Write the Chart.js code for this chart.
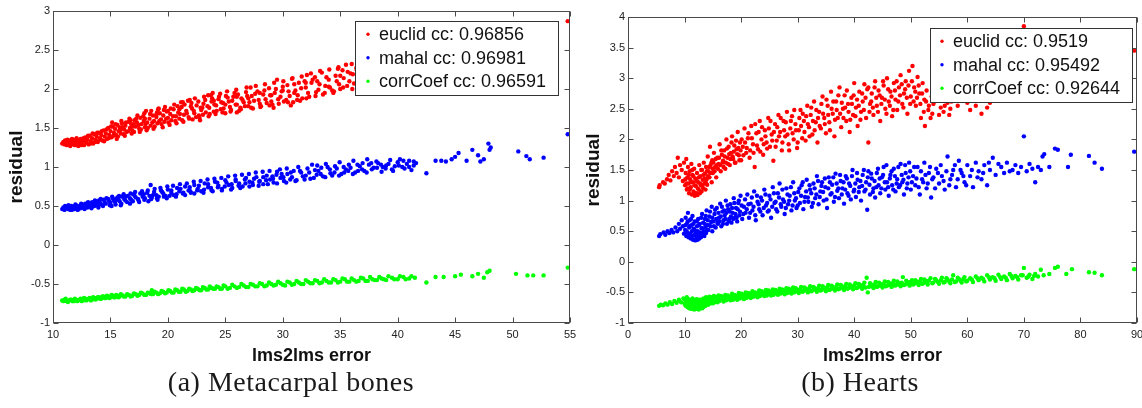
<!DOCTYPE html>
<html>
<head>
<meta charset="utf-8">
<script src="https://cdn.jsdelivr.net/npm/chart.js@4.4.0/dist/chart.umd.min.js"></script>
<style>
  html, body { margin: 0; padding: 0; background: #fff; width: 1142px; height: 408px; overflow: hidden; }
  .panel { position: absolute; top: 0; height: 372px; overflow: hidden; }
  #panelA { left: 0; width: 577px; }
  #panelB { left: 577px; width: 565px; }
  .panel canvas { position: absolute; top: 0; left: 0; }
  .caption { position: absolute; top: 366px; width: 400px; text-align: center; letter-spacing: 0.5px;
             font-family: "Liberation Serif", "DejaVu Serif", serif; font-size: 28px; color: #1a1a1a; }
</style>
</head>
<body>
<div class="panel" id="panelA"><canvas id="chartA" width="610" height="372"></canvas></div>
<div class="panel" id="panelB"><canvas id="chartB" width="600" height="372"></canvas></div>
<div class="caption" style="left:91px">(a) Metacarpal bones</div>
<div class="caption" style="left:660px">(b) Hearts</div>

<script>
/* ── data: flat [x, y, x, y, ...] lists ── */

// (a) metacarpal bones
const metaEuclid = [
  10.8,1.30, 10.9,1.32, 11.0,1.29, 11.1,1.31, 11.2,1.28, 11.3,1.33, 11.4,1.30, 11.5,1.27, 11.6,1.32, 11.7,1.29,
  11.8,1.35, 11.9,1.28, 12.0,1.31, 12.1,1.34, 12.2,1.27, 12.3,1.30, 12.4,1.36, 12.5,1.29, 12.6,1.33, 12.7,1.28,
  12.8,1.38, 12.9,1.31, 13.0,1.35, 13.1,1.29, 13.2,1.40, 13.3,1.33, 13.4,1.37, 13.5,1.30, 13.6,1.42, 13.7,1.35,
  13.8,1.39, 13.9,1.32, 14.0,1.44, 14.1,1.37, 14.2,1.41, 14.3,1.34, 14.4,1.47, 14.5,1.39, 14.6,1.43, 14.7,1.36,
  14.8,1.50, 14.9,1.41, 15.0,1.46, 15.1,1.38, 15.2,1.52, 15.3,1.44, 15.4,1.49, 15.5,1.41, 15.6,1.54, 15.7,1.46,
  15.8,1.51, 15.9,1.43, 16.0,1.56, 16.2,1.48, 16.3,1.53, 16.4,1.45, 16.6,1.58, 16.7,1.50, 16.8,1.55, 16.9,1.47,
  17.1,1.60, 17.2,1.52, 17.3,1.57, 17.5,1.49, 17.6,1.63, 17.7,1.55, 17.9,1.59, 18.0,1.51, 18.1,1.72, 18.2,1.57,
  18.4,1.62, 18.5,1.53, 18.7,1.66, 18.8,1.59, 19.0,1.64, 19.1,1.56, 19.3,1.69, 19.4,1.61, 19.6,1.66, 19.7,1.58,
  19.9,1.71, 20.0,1.63, 20.2,1.68, 20.3,1.60, 20.5,1.74, 20.7,1.65, 20.9,1.70, 21.0,1.62, 21.2,1.77, 21.4,1.67,
  21.6,1.72, 21.8,1.64, 21.9,1.86, 22.1,1.75, 22.3,1.69, 22.5,1.79, 22.7,1.66, 22.9,1.73, 23.1,1.81, 23.3,1.70,
  23.5,1.92, 23.6,1.76, 23.8,1.84, 24.0,1.71, 24.2,1.79, 24.4,1.87, 24.6,1.74, 24.8,1.82, 25.0,1.69, 25.2,1.89,
  25.4,1.77, 25.6,1.85, 25.8,1.95, 26.0,1.80, 26.2,1.72, 26.4,1.88, 26.6,1.83, 26.8,1.96, 27.0,1.78, 27.3,1.91,
  27.5,1.85, 27.8,1.97, 28.0,1.81, 28.3,1.93, 28.5,1.87, 28.8,2.01, 29.0,1.84, 29.3,1.95, 29.5,2.12, 29.8,1.90,
  30.0,2.03, 30.3,1.86, 30.5,1.97, 30.7,1.79, 31.0,2.06, 31.3,1.92, 31.6,2.01, 31.9,2.10, 32.2,1.95, 32.5,2.08,
  32.8,2.15, 33.1,1.99, 33.4,2.21, 33.7,2.04, 34.0,2.12, 34.3,1.98, 34.6,2.17, 34.9,2.06, 35.2,2.24, 35.5,2.31,
  35.8,2.10, 36.1,2.19, 36.4,2.27, 36.7,2.02, 37.0,2.14, 37.4,2.22, 37.8,2.05, 38.2,2.18, 38.7,2.26, 39.2,2.11,
  39.8,2.23, 40.5,2.16, 41.2,2.29, 42.0,2.21, 54.8,2.87,
  11.05,1.34, 11.25,1.35, 11.45,1.34, 11.65,1.36, 11.85,1.31, 12.05,1.37, 12.25,1.33, 12.45,1.28, 12.65,1.37, 12.85,1.34,
  13.05,1.40, 13.25,1.30, 13.45,1.43, 13.65,1.32, 13.85,1.44, 14.05,1.35, 14.25,1.46, 14.45,1.33, 14.65,1.48, 14.85,1.37,
  15.05,1.52, 15.25,1.40, 15.45,1.55, 15.65,1.39, 15.85,1.47, 16.05,1.51, 16.15,1.42, 16.35,1.57, 16.55,1.46, 16.75,1.60,
  16.95,1.52, 17.05,1.45, 17.25,1.62, 17.45,1.54, 17.65,1.48, 17.85,1.65, 18.05,1.55, 18.25,1.50, 18.45,1.68, 18.65,1.57,
  18.85,1.52, 19.05,1.70, 19.25,1.59, 19.45,1.55, 19.65,1.73, 19.85,1.62, 20.05,1.57, 20.25,1.75, 20.45,1.65, 20.65,1.59,
  20.85,1.78, 21.05,1.68, 21.25,1.60, 21.45,1.80, 21.65,1.69, 21.85,1.62, 22.05,1.82, 22.25,1.72, 22.45,1.64, 22.65,1.84,
  22.85,1.76, 23.05,1.67, 23.25,1.86, 23.45,1.78, 23.65,1.68, 23.85,1.88, 24.05,1.80, 24.25,1.72, 24.45,1.90, 24.65,1.83,
  24.85,1.75, 25.05,1.91, 25.3,1.84, 25.5,1.73, 25.7,1.90, 25.9,1.80, 26.1,1.93, 26.3,1.76, 26.5,1.86, 26.7,1.78,
  26.9,1.91, 27.1,1.83, 27.4,1.75, 27.6,1.94, 27.9,1.86, 28.1,1.78, 28.4,1.98, 28.6,1.82, 28.9,1.92, 29.1,1.80,
  29.4,2.00, 29.6,1.87, 29.9,1.97, 30.1,1.84, 30.4,2.05, 30.6,1.91, 30.9,1.83, 31.1,1.98, 31.4,2.08, 31.7,1.88,
  32.0,2.02, 32.3,1.90, 32.6,2.12, 32.9,1.96, 33.2,2.06, 33.5,1.93, 33.8,2.15, 34.1,2.02, 34.4,1.95, 34.7,2.10,
  35.0,2.00, 35.3,2.14, 35.6,2.04, 35.9,2.20, 36.2,2.07, 36.5,2.15, 36.8,1.99, 37.1,2.25, 37.5,2.09, 37.9,2.28,
  38.4,2.12, 38.9,2.20, 39.4,2.30, 40.0,2.12, 40.8,2.24, 41.6,2.18, 21.3,1.83, 19.2,1.75, 23.9,1.95, 27.2,2.02,
  30.8,2.13, 32.1,2.18, 34.8,2.26, 36.0,2.32, 22.8,1.60, 26.0,1.70, 29.2,1.76, 31.5,1.85,
  15.15,1.57, 15.55,1.36, 15.95,1.59, 16.25,1.40, 16.65,1.62, 16.85,1.43, 17.35,1.66, 17.55,1.45, 17.95,1.69, 18.15,1.47,
  18.55,1.72, 18.75,1.49, 19.15,1.74, 19.55,1.51, 19.75,1.77, 20.15,1.54, 20.55,1.80, 20.75,1.56, 21.15,1.83, 21.35,1.58,
  21.75,1.85, 22.15,1.61, 22.35,1.88, 22.75,1.63, 23.15,1.90, 23.55,1.65, 23.75,1.92, 24.15,1.68, 24.55,1.94, 24.75,1.70,
  25.15,1.97, 25.45,1.71, 25.95,1.99, 26.35,1.74, 26.85,2.02, 27.25,1.76, 27.65,2.04, 28.05,1.77, 28.45,2.06, 28.85,1.79,
  29.25,2.08, 29.65,1.81, 30.05,2.10, 30.45,1.83, 30.85,2.14, 31.25,1.86, 31.65,2.16, 32.05,1.88, 32.45,2.20, 32.85,1.91,
  33.25,2.23, 33.65,1.95, 34.05,2.25, 34.45,1.97, 34.85,2.28, 35.25,2.02, 35.65,2.22, 36.05,2.00, 36.45,2.24, 36.85,2.30,
  16.0,1.50, 17.0,1.55, 18.0,1.62, 19.0,1.67, 20.0,1.72, 21.0,1.74, 22.0,1.78, 23.0,1.76, 24.0,1.85, 25.0,1.80,
  26.0,1.90, 27.0,1.88, 28.0,1.95, 29.0,1.92, 30.0,1.98, 31.0,1.95, 32.0,2.08, 33.0,2.10, 34.0,2.03, 35.0,2.17
];
const metaMahal = [
  10.8,0.46, 10.9,0.48, 11.0,0.45, 11.1,0.47, 11.2,0.49, 11.3,0.46, 11.4,0.48, 11.5,0.45, 11.6,0.50, 11.7,0.47,
  11.8,0.49, 11.9,0.46, 12.0,0.51, 12.1,0.48, 12.2,0.46, 12.3,0.50, 12.4,0.47, 12.5,0.52, 12.6,0.49, 12.7,0.47,
  12.8,0.53, 12.9,0.50, 13.0,0.48, 13.1,0.54, 13.2,0.51, 13.3,0.49, 13.4,0.55, 13.5,0.52, 13.6,0.50, 13.7,0.56,
  13.8,0.53, 13.9,0.51, 14.0,0.57, 14.1,0.54, 14.2,0.52, 14.4,0.58, 14.5,0.55, 14.6,0.53, 14.8,0.59, 14.9,0.56,
  15.0,0.54, 15.2,0.60, 15.3,0.57, 15.4,0.55, 15.6,0.61, 15.7,0.58, 15.8,0.56, 16.0,0.62, 16.2,0.59, 16.3,0.57,
  16.5,0.63, 16.7,0.60, 16.8,0.58, 17.0,0.65, 17.2,0.61, 17.4,0.59, 17.6,0.66, 17.8,0.62, 18.0,0.60, 18.2,0.67,
  18.4,0.63, 18.5,0.77, 18.6,0.61, 18.8,0.68, 19.0,0.64, 19.2,0.62, 19.4,0.70, 19.6,0.66, 19.8,0.63, 20.0,0.71,
  20.3,0.67, 20.5,0.64, 20.8,0.73, 21.0,0.69, 21.3,0.66, 21.5,0.75, 21.8,0.70, 22.0,0.67, 22.3,0.77, 22.6,0.72,
  22.9,0.69, 23.2,0.79, 23.5,0.74, 23.8,0.70, 24.1,0.81, 24.4,0.76, 24.7,0.72, 25.0,0.83, 25.3,0.77, 25.6,0.73,
  25.9,0.84, 26.2,0.79, 26.5,0.75, 26.8,0.86, 27.1,0.81, 27.4,0.77, 27.7,0.87, 28.0,0.82, 28.3,0.78, 28.6,0.89,
  28.9,0.84, 29.2,0.80, 29.5,0.94, 29.8,0.86, 30.1,0.82, 30.4,0.91, 30.8,0.87, 31.2,0.83, 31.6,0.93, 32.0,0.89,
  32.4,0.85, 32.8,0.96, 33.0,1.02, 33.3,0.91, 33.7,0.87, 34.1,0.97, 34.5,0.93, 34.9,0.89, 35.3,1.00, 35.7,0.95,
  36.1,0.91, 36.5,1.03, 36.9,0.97, 37.3,0.93, 37.7,1.05, 38.2,0.99, 38.6,0.94, 39.0,1.02, 39.5,0.97, 40.0,1.06,
  40.4,1.00, 40.8,1.04, 41.2,0.96, 41.6,1.05, 42.5,0.92, 43.3,1.08, 43.8,1.08, 44.2,1.07, 44.7,1.10, 45.0,1.13,
  45.3,1.18, 46.0,1.08, 46.5,1.22, 47.0,1.15, 47.2,1.07, 47.5,1.10, 47.9,1.30, 48.0,1.22, 48.1,1.25, 50.5,1.20,
  51.2,1.14, 51.5,1.10, 52.7,1.12, 54.8,1.42,
  11.05,0.50, 11.35,0.51, 11.65,0.45, 11.95,0.52, 12.15,0.45, 12.45,0.53, 12.75,0.46, 13.05,0.55, 13.35,0.47, 13.65,0.57,
  13.95,0.48, 14.15,0.59, 14.35,0.50, 14.65,0.60, 14.95,0.51, 15.15,0.62, 15.45,0.52, 15.75,0.63, 15.95,0.53, 16.15,0.65,
  16.45,0.55, 16.75,0.66, 16.95,0.56, 17.15,0.68, 17.45,0.57, 17.75,0.69, 17.95,0.58, 18.25,0.70, 18.55,0.59, 18.85,0.72,
  19.05,0.60, 19.35,0.73, 19.65,0.62, 19.95,0.75, 20.15,0.63, 20.45,0.76, 20.75,0.65, 21.05,0.78, 21.35,0.67, 21.65,0.79,
  21.95,0.69, 22.25,0.81, 22.55,0.70, 22.85,0.82, 23.15,0.71, 23.45,0.84, 23.75,0.73, 24.05,0.85, 24.35,0.74, 24.65,0.86,
  24.95,0.75, 25.25,0.88, 25.55,0.78, 25.85,0.89, 26.15,0.76, 26.45,0.90, 26.75,0.79, 27.05,0.91, 27.35,0.80, 27.65,0.93,
  27.95,0.81, 28.25,0.94, 28.55,0.83, 28.85,0.95, 29.15,0.85, 29.45,0.90, 29.75,0.97, 30.05,0.87, 30.35,0.98, 30.65,0.84,
  30.95,0.95, 31.35,1.00, 31.75,0.88, 32.15,0.98, 32.55,1.03, 32.95,0.90, 33.35,0.99, 33.75,1.04, 34.15,0.92, 34.55,1.01,
  34.95,1.06, 35.35,0.93, 35.75,1.03, 36.15,1.08, 36.55,0.95, 36.95,1.05, 37.35,1.10, 37.75,0.97, 38.15,1.07, 38.55,1.03,
  38.95,0.98, 39.35,1.09, 39.75,1.01, 40.2,1.10, 40.6,0.98, 41.0,1.08, 41.4,1.02,
  15.1,0.50, 15.5,0.59, 15.9,0.51, 16.3,0.62, 16.7,0.53, 17.1,0.63, 17.5,0.55, 17.9,0.65, 18.3,0.56, 18.7,0.64,
  19.1,0.58, 19.5,0.68, 19.9,0.60, 20.3,0.70, 20.7,0.62, 21.1,0.72, 21.5,0.64, 21.9,0.74, 22.3,0.66, 22.7,0.76,
  23.1,0.67, 23.5,0.78, 23.9,0.69, 24.3,0.80, 24.7,0.70, 25.1,0.80, 25.5,0.71, 25.9,0.82, 26.3,0.73, 26.7,0.84,
  27.1,0.75, 27.5,0.85, 27.9,0.76, 28.3,0.87, 28.7,0.78, 29.1,0.88, 29.5,0.79, 29.9,0.91, 30.3,0.80, 30.7,0.93,
  31.1,0.82, 31.5,0.95, 31.9,0.84, 32.3,0.93, 32.7,0.86, 33.1,0.95, 33.5,0.88, 33.9,1.00, 34.3,0.89, 34.7,0.98,
  35.1,0.91, 35.5,0.97, 35.9,0.99, 36.3,0.93, 36.7,1.01, 37.1,0.95, 37.5,1.03, 37.9,0.99, 38.3,1.05, 38.7,1.00,
  39.2,1.04, 39.6,0.95, 40.1,1.02, 40.5,1.08, 41.0,1.00, 41.4,1.07
];
const metaCorr = [
  10.8,-0.71, 11.0,-0.70, 11.2,-0.72, 11.4,-0.71, 11.6,-0.70, 11.8,-0.72, 12.0,-0.70, 12.2,-0.71, 12.4,-0.69, 12.6,-0.71,
  12.8,-0.69, 13.0,-0.70, 13.2,-0.68, 13.4,-0.70, 13.6,-0.68, 13.8,-0.69, 14.0,-0.67, 14.2,-0.69, 14.4,-0.66, 14.6,-0.68,
  14.8,-0.66, 15.0,-0.67, 15.2,-0.65, 15.4,-0.67, 15.6,-0.65, 15.8,-0.66, 16.0,-0.64, 16.3,-0.66, 16.6,-0.64, 16.9,-0.65,
  17.2,-0.63, 17.5,-0.64, 17.8,-0.62, 18.1,-0.64, 18.4,-0.62, 18.6,-0.58, 18.7,-0.63, 19.0,-0.61, 19.3,-0.62, 19.6,-0.60,
  19.9,-0.61, 20.2,-0.59, 20.5,-0.61, 20.8,-0.58, 21.1,-0.60, 21.4,-0.57, 21.7,-0.59, 22.0,-0.57, 22.3,-0.58, 22.6,-0.56,
  22.9,-0.58, 23.2,-0.55, 23.5,-0.57, 23.8,-0.55, 24.1,-0.56, 24.4,-0.54, 24.7,-0.56, 25.0,-0.53, 25.4,-0.55, 25.8,-0.53,
  26.2,-0.54, 26.6,-0.52, 27.0,-0.54, 27.4,-0.51, 27.8,-0.53, 28.2,-0.50, 28.6,-0.52, 29.0,-0.50, 29.4,-0.51, 29.8,-0.49,
  30.2,-0.52, 30.6,-0.48, 31.0,-0.50, 31.4,-0.48, 31.8,-0.50, 32.2,-0.47, 32.6,-0.49, 33.0,-0.46, 33.4,-0.48, 33.8,-0.46,
  34.2,-0.48, 34.6,-0.45, 35.0,-0.47, 35.4,-0.44, 35.8,-0.47, 36.2,-0.45, 36.6,-0.46, 37.0,-0.43, 37.4,-0.46, 37.8,-0.44,
  38.2,-0.45, 38.6,-0.43, 39.0,-0.45, 39.5,-0.42, 40.0,-0.44, 40.5,-0.41, 41.0,-0.43, 41.5,-0.42, 42.5,-0.48, 43.3,-0.41,
  44.0,-0.41, 45.0,-0.40, 45.5,-0.38, 46.5,-0.40, 47.0,-0.37, 47.5,-0.42, 47.8,-0.35, 48.0,-0.33, 50.3,-0.37, 51.3,-0.39,
  51.8,-0.39, 52.7,-0.39, 54.8,-0.29,
  10.9,-0.72, 11.1,-0.69, 11.3,-0.73, 11.5,-0.70, 11.7,-0.72, 11.9,-0.69, 12.1,-0.72, 12.3,-0.70, 12.5,-0.72, 12.7,-0.68,
  12.9,-0.71, 13.1,-0.69, 13.3,-0.71, 13.5,-0.67, 13.7,-0.70, 13.9,-0.67, 14.1,-0.69, 14.3,-0.66, 14.5,-0.68, 14.7,-0.65,
  14.9,-0.68, 15.1,-0.64, 15.3,-0.67, 15.5,-0.64, 15.7,-0.67, 15.9,-0.63, 16.15,-0.66, 16.45,-0.63, 16.75,-0.66, 17.05,-0.62,
  17.35,-0.65, 17.65,-0.61, 17.95,-0.64, 18.25,-0.61, 18.55,-0.63, 18.85,-0.60, 19.15,-0.63, 19.45,-0.59, 19.75,-0.62, 20.05,-0.58,
  20.35,-0.61, 20.65,-0.57, 20.95,-0.60, 21.25,-0.56, 21.55,-0.60, 21.85,-0.56, 22.15,-0.59, 22.45,-0.55, 22.75,-0.58, 23.05,-0.54,
  23.35,-0.57, 23.65,-0.53, 23.95,-0.56, 24.25,-0.53, 24.55,-0.56, 24.85,-0.52, 25.2,-0.56, 25.6,-0.51, 26.0,-0.55, 26.4,-0.50,
  26.8,-0.54, 27.2,-0.50, 27.6,-0.53, 28.0,-0.49, 28.4,-0.53, 28.8,-0.48, 29.2,-0.52, 29.6,-0.47, 30.0,-0.51, 30.4,-0.47,
  30.8,-0.51, 31.2,-0.46, 31.6,-0.50, 32.0,-0.45, 32.4,-0.49, 32.8,-0.45, 33.2,-0.49, 33.6,-0.44, 34.0,-0.48, 34.4,-0.44,
  34.8,-0.48, 35.2,-0.43, 35.6,-0.47, 36.0,-0.43, 36.4,-0.47, 36.8,-0.42, 37.2,-0.46, 37.6,-0.41, 38.0,-0.45, 38.4,-0.41,
  38.8,-0.44, 39.2,-0.40, 39.7,-0.44, 40.2,-0.40, 40.7,-0.44, 41.2,-0.40
];

// (b) hearts
const heartEuclid = [
  5.5,1.22, 5.6,1.25, 6.2,1.30, 6.5,1.28, 6.9,1.35, 7.2,1.42, 7.5,1.33, 7.8,1.48, 8.1,1.40, 8.3,1.55,
  8.6,1.45, 8.8,1.70, 9.0,1.38, 9.2,1.58, 9.5,1.50, 9.7,1.32, 9.9,1.62,
  10.1,1.25, 10.2,1.45, 10.3,1.68, 10.4,1.18, 10.5,1.38, 10.6,1.55, 10.7,1.28, 10.8,1.12, 10.9,1.48, 11.0,1.35,
  11.1,1.22, 11.2,1.60, 11.3,1.10, 11.4,1.42, 11.5,1.30, 11.6,1.15, 11.7,1.52, 11.8,1.08, 11.9,1.36, 12.0,1.24,
  12.1,1.12, 12.2,1.45, 12.3,1.09, 12.4,1.30, 12.5,1.18, 12.6,1.58, 12.7,1.12, 12.8,1.40, 12.9,1.25, 13.0,1.15,
  13.1,1.50, 13.2,1.34, 13.3,1.20, 13.4,1.62, 13.5,1.28, 13.6,1.44, 13.7,1.18, 13.8,1.55, 13.9,1.35, 14.0,1.26,
  14.1,1.72, 14.2,1.48, 14.4,1.38, 14.5,1.88, 14.6,1.58, 14.8,1.30, 14.9,1.66,
  15.0,1.45, 15.2,1.78, 15.4,1.55, 15.6,1.38, 15.8,1.70, 16.0,1.60, 16.2,1.92, 16.4,1.48, 16.6,1.75, 16.8,1.65,
  17.0,1.82, 17.2,1.52, 17.4,2.00, 17.6,1.70, 17.8,1.88, 18.0,1.58, 18.2,1.78, 18.4,2.05, 18.6,1.68, 18.8,1.90,
  19.0,1.62, 19.2,1.84, 19.4,2.12, 19.6,1.74, 19.8,1.95, 20.0,1.66,
  20.3,1.88, 20.6,2.18, 20.9,1.78, 21.2,2.02, 21.5,1.70, 21.8,2.22, 22.1,1.92, 22.4,1.55, 22.7,2.10, 23.0,1.84,
  23.3,2.30, 23.6,2.00, 23.9,1.75, 24.2,2.15, 24.5,1.95, 24.8,2.35, 25.1,1.88, 25.4,2.08, 25.7,1.65, 26.0,2.25,
  26.3,1.98, 26.6,2.40, 26.9,2.12, 27.2,1.82, 27.5,2.30, 27.8,2.05, 28.1,2.45, 28.4,1.92, 28.7,2.18, 29.0,2.38,
  29.3,2.00, 29.6,2.25, 29.9,1.86,
  30.2,2.15, 30.5,2.48, 30.8,2.02, 31.1,2.30, 31.4,1.98, 31.7,2.55, 32.0,2.20, 32.3,2.40, 32.6,2.08, 32.9,2.62,
  33.2,2.28, 33.5,1.95, 33.8,2.45, 34.1,2.18, 34.4,2.70, 34.7,2.35, 35.0,2.10, 35.3,2.55, 35.6,2.28, 35.9,2.78,
  36.2,2.42, 36.5,2.05, 36.8,2.62, 37.1,2.35, 37.4,2.85, 37.7,2.20, 38.0,2.50, 38.3,2.72, 38.6,2.30, 38.9,2.58,
  39.2,2.12, 39.5,2.68, 39.8,2.40, 40.0,2.92,
  40.3,2.52, 40.6,2.22, 40.9,2.78, 41.2,2.45, 41.5,2.62, 41.8,2.90, 42.1,2.35, 42.5,1.95, 42.5,2.85, 42.8,2.58,
  43.1,2.75, 43.4,2.40, 43.7,2.95, 44.0,2.55, 44.3,2.80, 44.6,2.30, 44.9,2.68, 45.2,2.88, 45.5,2.50, 45.8,3.00,
  46.1,2.62, 46.4,2.78, 46.7,2.38, 47.0,2.92, 47.3,2.65, 47.6,2.48, 47.9,2.85, 48.2,3.05, 48.5,2.58, 48.8,2.75,
  49.1,2.95, 49.4,2.42, 49.7,3.12, 50.0,2.70, 50.3,3.20, 50.6,2.85,
  50.9,2.55, 51.2,3.02, 51.5,2.75, 51.8,2.35, 52.1,2.92, 52.4,2.65, 52.5,2.22, 52.8,2.80, 53.1,2.48, 53.5,2.35,
  53.7,2.70, 54.0,2.58, 54.5,2.85, 55.0,2.40, 55.5,2.75, 56.0,2.55, 56.5,2.60, 57.0,2.50, 57.5,2.80, 58.0,2.65,
  59.0,3.00, 60.0,2.60, 61.5,2.55, 62.0,2.90, 63.5,2.52, 64.0,2.60, 65.0,2.95, 65.5,2.68, 67.0,3.10, 70.0,3.85,
  89.5,3.45,
  10.15,1.35, 10.35,1.28, 10.55,1.20, 10.75,1.42, 10.95,1.18, 11.15,1.30, 11.35,1.50, 11.55,1.40, 11.75,1.25, 11.95,1.12,
  12.15,1.32, 12.35,1.20, 12.55,1.38, 12.75,1.28, 12.95,1.50, 13.15,1.24, 13.35,1.42, 13.55,1.36, 13.75,1.30, 13.95,1.48,
  14.15,1.40, 14.35,1.55, 14.55,1.45, 14.75,1.62, 14.95,1.52, 15.1,1.62, 15.3,1.48, 15.5,1.68, 15.7,1.58, 15.9,1.52,
  16.1,1.70, 16.3,1.58, 16.5,1.82, 16.7,1.62, 16.9,1.55, 17.1,1.72, 17.3,1.62, 17.5,1.85, 17.7,1.60, 17.9,1.76,
  18.1,1.68, 18.3,1.95, 18.5,1.72, 18.7,1.80, 18.9,1.62, 19.1,1.98, 19.3,1.76, 19.5,1.86, 19.7,1.66, 19.9,1.82,
  20.1,2.00, 20.4,1.74, 20.7,1.95, 21.0,1.86, 21.3,2.10, 21.6,1.82, 21.9,2.02, 22.2,1.78, 22.5,2.25, 22.8,1.90,
  23.1,2.12, 23.4,1.80, 23.7,2.20, 24.0,1.92, 24.3,2.05, 24.6,1.85, 24.9,2.18, 25.2,2.30, 25.5,1.98, 25.8,2.12,
  26.1,1.88, 26.4,2.20, 26.7,2.05, 27.0,2.35, 27.3,1.95, 27.6,2.15, 27.9,2.28, 28.2,2.08, 28.5,1.82, 28.8,2.30,
  29.1,2.10, 29.4,2.48, 29.7,2.15, 30.0,1.95, 30.3,2.35, 30.6,2.22, 30.9,2.42, 31.2,2.12, 31.5,2.38, 31.8,2.25,
  32.1,2.05, 32.4,2.52, 32.7,2.30, 33.0,2.15, 33.3,2.48, 33.6,2.35, 33.9,2.22, 34.2,2.58, 34.5,2.42, 34.8,2.25,
  35.1,2.65, 35.4,2.40, 35.7,2.15, 36.0,2.50, 36.3,2.62, 36.6,2.32, 36.9,2.48, 37.2,2.72, 37.5,2.42, 37.8,2.60,
  38.1,2.35, 38.4,2.52, 38.7,2.80, 39.0,2.45, 39.3,2.32, 39.6,2.58, 39.9,2.72, 40.2,2.38, 40.5,2.65, 40.8,2.55,
  41.1,2.32, 41.4,2.75, 41.7,2.48, 42.0,2.68, 42.3,2.82, 42.7,2.45, 43.0,2.62, 43.3,2.52, 43.6,2.85, 43.9,2.68,
  44.2,2.45, 44.5,2.72, 44.8,2.58, 45.1,2.95, 45.4,2.65, 45.7,2.42, 46.0,2.82, 46.3,2.55, 46.6,2.70, 46.9,2.48,
  47.2,2.80, 47.5,2.95, 47.8,2.62, 48.1,2.72, 48.4,2.90, 48.7,2.52, 49.0,2.82, 49.3,2.68, 49.6,2.88, 49.9,2.58,
  50.2,2.95, 50.5,2.62, 50.8,2.78, 51.1,2.68, 51.4,2.88, 51.7,2.58, 52.0,2.75, 52.3,2.45, 52.7,2.62, 53.2,2.55,
  53.8,2.42, 54.2,2.62, 55.3,2.52, 55.8,2.45, 56.8,2.40, 57.2,2.62, 58.3,2.55, 60.5,2.48, 62.5,2.42
];
const heartMahal = [
  5.5,0.42, 5.7,0.45, 6.3,0.48, 6.6,0.44, 7.0,0.50, 7.3,0.47, 7.7,0.52, 8.0,0.48, 8.4,0.56, 8.7,0.50,
  9.0,0.62, 9.2,0.54, 9.5,0.68, 9.7,0.58, 9.9,0.46,
  10.1,0.52, 10.2,0.72, 10.3,0.42, 10.4,0.62, 10.5,0.48, 10.6,0.80, 10.7,0.40, 10.8,0.56, 10.9,0.68, 11.0,0.45,
  11.1,0.38, 11.2,0.60, 11.3,0.50, 11.4,0.75, 11.5,0.36, 11.6,0.54, 11.7,0.44, 11.8,0.66, 11.9,0.35, 12.0,0.50,
  12.1,0.40, 12.2,0.58, 12.3,0.36, 12.4,0.70, 12.5,0.45, 12.6,0.38, 12.7,0.62, 12.8,0.48, 12.9,0.40, 13.0,0.55,
  13.1,0.78, 13.2,0.44, 13.3,0.64, 13.4,0.50, 13.5,0.42, 13.6,0.70, 13.7,0.56, 13.8,0.47, 13.9,0.84, 14.0,0.60,
  14.2,0.52, 14.4,0.74, 14.6,0.58, 14.8,0.90, 14.9,0.50,
  15.1,0.66, 15.3,0.78, 15.5,0.56, 15.7,0.88, 15.9,0.62, 16.1,0.72, 16.3,0.95, 16.5,0.58, 16.7,0.82, 16.9,0.68,
  17.1,0.76, 17.3,1.00, 17.5,0.62, 17.7,0.86, 17.9,0.70, 18.1,0.94, 18.3,0.64, 18.5,0.80, 18.7,1.04, 18.9,0.72,
  19.1,0.88, 19.3,0.66, 19.5,0.96, 19.7,0.76, 19.9,1.08,
  20.2,0.70, 20.5,0.90, 20.8,0.80, 21.1,1.10, 21.4,0.72, 21.7,0.95, 22.0,0.84, 22.3,1.15, 22.6,0.68, 22.9,0.98,
  23.2,0.86, 23.5,1.05, 23.8,0.76, 24.1,1.18, 24.4,0.92, 24.7,0.82, 25.0,1.08, 25.3,0.72, 25.6,1.22, 25.9,0.96,
  26.2,0.86, 26.5,1.12, 26.8,1.28, 27.1,0.90, 27.4,1.02, 27.7,0.78, 28.0,1.20, 28.3,0.94, 28.6,1.08, 28.9,0.84,
  29.2,1.30, 29.5,1.00, 29.8,0.88,
  30.1,1.14, 30.4,0.96, 30.7,1.25, 31.0,0.86, 31.3,1.06, 31.6,1.34, 31.9,0.98, 32.2,1.18, 32.5,0.90, 32.8,1.28,
  33.1,1.04, 33.4,1.40, 33.7,0.94, 34.0,1.15, 34.3,1.30, 34.6,1.00, 34.9,1.22, 35.2,0.88, 35.5,1.38, 35.8,1.10,
  36.1,1.26, 36.4,0.98, 36.7,1.44, 37.0,1.16, 37.3,1.04, 37.6,1.32, 37.9,1.20, 38.2,0.95, 38.5,1.40, 38.8,1.12,
  39.1,1.28, 39.4,1.02, 39.7,1.50, 40.0,1.18,
  40.3,1.06, 40.6,1.34, 40.9,1.22, 41.2,1.00, 41.5,1.42, 41.8,1.15, 42.1,1.30, 42.3,0.85, 42.5,1.48, 42.8,1.10,
  43.1,1.36, 43.4,1.20, 43.7,1.05, 44.0,1.45, 44.3,1.25, 44.6,1.12, 44.9,1.38, 45.2,1.55, 45.5,1.18, 45.8,1.30,
  46.1,1.08, 46.4,1.42, 46.7,1.25, 47.0,1.52, 47.3,1.15, 47.6,1.35, 47.9,1.22, 48.2,1.60, 48.5,1.30, 48.8,1.10,
  49.1,1.45, 49.4,1.28, 49.7,1.62, 50.0,1.18,
  50.4,1.40, 50.8,1.25, 51.2,1.55, 51.6,1.10, 52.0,1.35, 52.4,1.62, 52.8,1.20, 53.2,1.45, 53.6,1.05, 54.0,1.38,
  54.5,1.52, 55.0,1.28, 55.5,1.40, 56.0,1.18, 56.5,1.72, 57.0,1.35, 57.5,1.50, 58.0,1.22, 58.5,1.65, 59.0,1.45,
  59.5,1.30, 60.0,1.58,
  60.5,1.40, 61.0,1.22, 61.5,1.62, 62.0,1.48, 62.5,1.35, 63.0,1.58, 63.5,1.25, 64.0,1.50, 64.5,1.70, 65.0,1.42,
  65.5,1.60, 66.0,1.55, 66.5,1.45, 67.0,1.62, 67.5,1.48, 68.0,1.50, 68.5,1.58, 69.0,1.45, 69.5,1.55, 70.0,2.05,
  70.5,1.48, 71.0,1.60, 71.5,1.52, 72.0,1.30, 72.5,1.55, 73.0,1.50, 73.3,1.72, 73.6,1.76, 74.5,1.55, 75.5,1.85,
  76.0,1.83, 77.8,1.55, 78.3,1.75, 81.5,1.73, 82.5,1.62, 83.8,1.52, 89.5,1.80,
  10.15,0.60, 10.35,0.50, 10.55,0.66, 10.75,0.46, 10.95,0.58, 11.15,0.70, 11.35,0.42, 11.55,0.62, 11.75,0.52, 11.95,0.45,
  12.15,0.66, 12.35,0.50, 12.55,0.60, 12.75,0.42, 12.95,0.72, 13.15,0.55, 13.35,0.46, 13.55,0.62, 13.75,0.75, 13.95,0.52,
  14.1,0.68, 14.3,0.60, 14.5,0.82, 14.7,0.65, 14.9,0.72, 15.2,0.58, 15.4,0.85, 15.6,0.70, 15.8,0.64, 16.0,0.80,
  16.2,0.66, 16.4,0.74, 16.6,0.90, 16.8,0.62, 17.0,0.84, 17.2,0.70, 17.4,0.80, 17.6,0.92, 17.8,0.66, 18.0,0.82,
  18.2,0.74, 18.4,0.88, 18.6,0.70, 18.8,0.96, 19.0,0.78, 19.2,0.72, 19.4,0.86, 19.6,1.00, 19.8,0.82, 20.1,0.92,
  20.4,0.78, 20.7,1.02, 21.0,0.86, 21.3,0.94, 21.6,0.80, 21.9,1.05, 22.2,0.90, 22.5,0.76, 22.8,1.08, 23.1,0.94,
  23.4,0.82, 23.7,1.00, 24.0,0.88, 24.3,1.10, 24.6,0.96, 24.9,0.84, 25.2,1.02, 25.5,0.90, 25.8,1.12, 26.1,0.98,
  26.4,0.82, 26.7,1.05, 27.0,0.94, 27.3,1.18, 27.6,0.98, 27.9,0.88, 28.2,1.10, 28.5,1.00, 28.8,1.22, 29.1,0.92,
  29.4,1.12, 29.7,1.04, 30.0,0.92, 30.3,1.20, 30.6,1.08, 30.9,1.30, 31.2,0.98, 31.5,1.15, 31.8,1.05, 32.1,1.25,
  32.4,1.12, 32.7,0.96, 33.0,1.20, 33.3,1.10, 33.6,1.32, 33.9,1.06, 34.2,1.24, 34.5,1.14, 34.8,1.36, 35.1,1.02,
  35.4,1.20, 35.7,1.30, 36.0,1.12, 36.3,1.38, 36.6,1.06, 36.9,1.28, 37.2,1.20, 37.5,1.42, 37.8,1.10, 38.1,1.30,
  38.4,1.18, 38.7,1.36, 39.0,1.08, 39.3,1.24, 39.6,1.40, 39.9,1.15, 40.2,1.28, 40.5,1.45, 40.8,1.14, 41.1,1.32,
  41.4,1.24, 41.7,1.50, 42.0,1.18, 42.4,1.38, 42.7,1.26, 43.0,1.44, 43.3,1.14, 43.6,1.32, 43.9,1.22, 44.2,1.52,
  44.5,1.36, 44.8,1.20, 45.1,1.42, 45.4,1.30, 45.7,1.58, 46.0,1.22, 46.3,1.36, 46.6,1.48, 46.9,1.18, 47.2,1.40,
  47.5,1.28, 47.8,1.55, 48.1,1.25, 48.4,1.42, 48.7,1.34, 49.0,1.58, 49.3,1.20, 49.6,1.38, 49.9,1.48, 50.2,1.30,
  50.6,1.55, 51.0,1.36, 51.4,1.22, 51.8,1.48, 52.2,1.30, 52.6,1.42, 53.0,1.28, 53.4,1.55, 53.8,1.35, 54.3,1.20,
  54.8,1.45, 55.3,1.58, 55.8,1.32, 56.3,1.48, 56.8,1.25, 57.3,1.42, 57.8,1.58, 58.3,1.35, 58.8,1.50, 59.3,1.40,
  59.8,1.25, 60.8,1.50, 61.8,1.38, 62.8,1.45, 63.8,1.62
];
const heartCorr = [
  5.5,-0.72, 5.8,-0.70, 6.2,-0.71, 6.6,-0.68, 7.0,-0.70, 7.4,-0.66, 7.8,-0.69, 8.2,-0.64, 8.6,-0.67, 9.0,-0.62,
  9.4,-0.66, 9.8,-0.60,
  10.0,-0.68, 10.1,-0.62, 10.2,-0.72, 10.3,-0.65, 10.4,-0.58, 10.5,-0.74, 10.6,-0.67, 10.7,-0.61, 10.8,-0.76, 10.9,-0.69,
  11.0,-0.63, 11.1,-0.72, 11.2,-0.77, 11.3,-0.66, 11.4,-0.60, 11.5,-0.74, 11.6,-0.70, 11.7,-0.78, 11.8,-0.64, 11.9,-0.72,
  12.0,-0.77, 12.1,-0.67, 12.2,-0.61, 12.3,-0.75, 12.4,-0.70, 12.5,-0.78, 12.6,-0.64, 12.7,-0.73, 12.8,-0.68, 12.9,-0.76,
  13.0,-0.62, 13.1,-0.71, 13.2,-0.66, 13.3,-0.74, 13.4,-0.60, 13.5,-0.69, 13.6,-0.64, 13.7,-0.72, 13.8,-0.58, 13.9,-0.67,
  14.0,-0.62, 14.2,-0.70, 14.4,-0.57, 14.6,-0.65, 14.8,-0.60,
  15.0,-0.68, 15.2,-0.56, 15.4,-0.63, 15.6,-0.59, 15.8,-0.66, 16.0,-0.55, 16.3,-0.62, 16.6,-0.58, 16.9,-0.65, 17.2,-0.54,
  17.5,-0.61, 17.8,-0.57, 18.1,-0.63, 18.4,-0.52, 18.7,-0.60, 19.0,-0.56, 19.3,-0.62, 19.6,-0.51, 19.9,-0.58,
  20.2,-0.54, 20.5,-0.61, 20.8,-0.50, 21.1,-0.57, 21.4,-0.53, 21.7,-0.59, 22.0,-0.48, 22.3,-0.55, 22.6,-0.51, 22.9,-0.58,
  23.2,-0.47, 23.5,-0.54, 23.8,-0.50, 24.1,-0.56, 24.4,-0.46, 24.7,-0.53, 25.0,-0.49, 25.3,-0.55, 25.6,-0.45, 25.9,-0.52,
  26.2,-0.48, 26.5,-0.54, 26.8,-0.44, 27.1,-0.51, 27.4,-0.47, 27.7,-0.53, 28.0,-0.43, 28.3,-0.50, 28.6,-0.46, 28.9,-0.52,
  29.2,-0.42, 29.5,-0.49, 29.8,-0.45,
  30.2,-0.51, 30.6,-0.41, 31.0,-0.48, 31.4,-0.44, 31.8,-0.50, 32.2,-0.40, 32.6,-0.47, 33.0,-0.43, 33.4,-0.49, 33.8,-0.39,
  34.2,-0.46, 34.6,-0.42, 35.0,-0.48, 35.4,-0.38, 35.8,-0.45, 36.2,-0.41, 36.6,-0.47, 37.0,-0.37, 37.4,-0.44, 37.8,-0.40,
  38.2,-0.46, 38.6,-0.36, 39.0,-0.43, 39.4,-0.39, 39.8,-0.45,
  40.2,-0.35, 40.6,-0.42, 41.0,-0.38, 41.4,-0.44, 41.8,-0.34, 42.2,-0.26, 42.4,-0.50, 42.6,-0.41, 43.0,-0.37, 43.4,-0.43,
  43.8,-0.33, 44.2,-0.40, 44.6,-0.36, 45.0,-0.42, 45.4,-0.32, 45.8,-0.39, 46.2,-0.35, 46.6,-0.41, 47.0,-0.31, 47.4,-0.38,
  47.8,-0.34, 48.2,-0.40, 48.6,-0.25, 49.0,-0.37, 49.4,-0.33, 49.8,-0.39,
  50.2,-0.30, 50.6,-0.36, 51.0,-0.32, 51.4,-0.38, 51.8,-0.28, 52.2,-0.35, 52.6,-0.31, 53.0,-0.37, 53.5,-0.27, 54.0,-0.34,
  54.5,-0.30, 55.0,-0.36, 55.5,-0.26, 56.0,-0.33, 56.5,-0.29, 57.0,-0.35, 57.5,-0.22, 58.0,-0.32, 58.5,-0.28, 59.0,-0.34,
  59.5,-0.25, 60.0,-0.31,
  60.5,-0.27, 61.0,-0.33, 61.5,-0.24, 62.0,-0.30, 62.5,-0.26, 63.0,-0.32, 63.5,-0.22, 64.0,-0.29, 64.5,-0.25, 65.0,-0.31,
  65.5,-0.21, 66.0,-0.28, 66.5,-0.24, 67.0,-0.30, 67.5,-0.20, 68.0,-0.27, 68.5,-0.23, 69.0,-0.29, 69.5,-0.22, 70.0,-0.10,
  70.5,-0.26, 71.0,-0.21, 71.5,-0.28, 72.0,-0.20, 72.5,-0.24, 73.0,-0.13, 73.5,-0.22, 74.5,-0.20, 75.5,-0.10, 76.0,-0.08,
  77.5,-0.20, 78.5,-0.12, 81.5,-0.17, 82.5,-0.18, 83.8,-0.22, 89.5,-0.12,
  10.15,-0.70, 10.35,-0.62, 10.55,-0.68, 10.75,-0.72, 10.95,-0.64, 11.15,-0.68, 11.35,-0.75, 11.55,-0.65, 11.75,-0.70, 11.95,-0.62,
  12.15,-0.74, 12.35,-0.66, 12.55,-0.71, 12.75,-0.62, 12.95,-0.70, 13.15,-0.76, 13.35,-0.66, 13.55,-0.72, 13.75,-0.64, 13.95,-0.70,
  14.1,-0.65, 14.3,-0.62, 14.5,-0.68, 14.7,-0.58, 14.9,-0.64, 15.1,-0.60, 15.3,-0.66, 15.5,-0.58, 15.7,-0.63, 15.9,-0.57,
  16.15,-0.64, 16.45,-0.56, 16.75,-0.61, 17.05,-0.58, 17.35,-0.63, 17.65,-0.55, 17.95,-0.60, 18.25,-0.57, 18.55,-0.62, 18.85,-0.54,
  19.15,-0.59, 19.45,-0.55, 19.75,-0.60, 20.05,-0.52, 20.35,-0.57, 20.65,-0.54, 20.95,-0.59, 21.25,-0.51, 21.55,-0.56, 21.85,-0.52,
  22.15,-0.57, 22.45,-0.50, 22.75,-0.54, 23.05,-0.51, 23.35,-0.56, 23.65,-0.48, 23.95,-0.53, 24.25,-0.50, 24.55,-0.55, 24.85,-0.47,
  25.15,-0.52, 25.45,-0.49, 25.75,-0.54, 26.05,-0.46, 26.35,-0.51, 26.65,-0.48, 26.95,-0.52, 27.25,-0.45, 27.55,-0.50, 27.85,-0.47,
  28.15,-0.51, 28.45,-0.44, 28.75,-0.49, 29.05,-0.46, 29.35,-0.50, 29.65,-0.43, 29.95,-0.48, 30.4,-0.45, 30.8,-0.49, 31.2,-0.42,
  31.6,-0.47, 32.0,-0.44, 32.4,-0.48, 32.8,-0.41, 33.2,-0.46, 33.6,-0.43, 34.0,-0.47, 34.4,-0.40, 34.8,-0.45, 35.2,-0.42,
  35.6,-0.46, 36.0,-0.39, 36.4,-0.44, 36.8,-0.41, 37.2,-0.45, 37.6,-0.38, 38.0,-0.43, 38.4,-0.40, 38.8,-0.44, 39.2,-0.37,
  39.6,-0.42, 40.0,-0.39, 40.4,-0.43, 40.8,-0.36, 41.2,-0.41, 41.6,-0.38, 42.0,-0.42, 42.8,-0.35, 43.2,-0.40, 43.6,-0.37,
  44.0,-0.41, 44.4,-0.34, 44.8,-0.39, 45.2,-0.36, 45.6,-0.40, 46.0,-0.33, 46.4,-0.38, 46.8,-0.35, 47.2,-0.39, 47.6,-0.32,
  48.0,-0.37, 48.4,-0.34, 48.8,-0.38, 49.2,-0.31, 49.6,-0.36, 50.0,-0.33, 50.4,-0.37, 50.8,-0.30, 51.2,-0.35, 51.6,-0.32,
  52.0,-0.36, 52.4,-0.29, 52.8,-0.34, 53.2,-0.31, 53.8,-0.35, 54.3,-0.28, 54.8,-0.33, 55.3,-0.30, 55.8,-0.34, 56.3,-0.27,
  56.8,-0.32, 57.3,-0.29, 57.8,-0.33, 58.3,-0.26, 58.8,-0.31, 59.3,-0.28, 59.8,-0.32, 60.8,-0.29, 61.8,-0.27, 62.8,-0.28,
  63.8,-0.25, 64.8,-0.27, 65.8,-0.25, 66.8,-0.26, 67.8,-0.23, 68.8,-0.25, 69.8,-0.22, 70.8,-0.24, 71.8,-0.23
];

// legend entries (correlation coefficients)
const seriesNames = ['euclid', 'mahal', 'corrCoef'];
const ccMeta = ['0.96856', '0.96981', '0.96591'];
const ccHeart = ['0.9519', '0.95492', '0.92644'];
const seriesColors = ['#ff0000', '#0000ff', '#00ff00'];

// axis ticks
const xTicksMeta = [10, 15, 20, 25, 30, 35, 40, 45, 50, 55];
const yTicksMeta = [-1, -0.5, 0, 0.5, 1, 1.5, 2, 2.5, 3];
const xTicksHeart = [0, 10, 20, 30, 40, 50, 60, 70, 80, 90];
const yTicksHeart = [-1, -0.5, 0, 0.5, 1, 1.5, 2, 2.5, 3, 3.5, 4];

const SANS = '"Liberation Sans", Arial, Helvetica, sans-serif';

function pairs(flat) {
  const out = [];
  for (let i = 0; i < flat.length; i += 2) out.push({ x: flat[i], y: flat[i + 1] });
  return out;
}

// matlab-style box with inward ticks on all four sides
const boxFrame = {
  id: 'boxFrame',
  afterDatasetsDraw(chart) {
    const { ctx, chartArea: a, scales } = chart;
    const L = Math.round(a.left) + 0.5, R = Math.round(a.right) - 0.5;
    const T = Math.round(a.top) + 0.5, B = Math.round(a.bottom) - 0.5;
    const len = 5;
    ctx.save();
    ctx.strokeStyle = '#4a4a4a';
    ctx.lineWidth = 1;
    ctx.strokeRect(L, T, R - L, B - T);
    ctx.beginPath();
    scales.x.ticks.forEach(t => {
      const px = Math.round(scales.x.getPixelForValue(t.value)) + 0.5;
      ctx.moveTo(px, B); ctx.lineTo(px, B - len);
      ctx.moveTo(px, T); ctx.lineTo(px, T + len);
    });
    scales.y.ticks.forEach(t => {
      const py = Math.round(scales.y.getPixelForValue(t.value)) + 0.5;
      ctx.moveTo(L, py); ctx.lineTo(L + len, py);
      ctx.moveTo(R, py); ctx.lineTo(R - len, py);
    });
    ctx.stroke();
    ctx.restore();
  }
};

// boxed legend drawn inside the plot area, top right
const insetLegend = {
  id: 'insetLegend',
  afterDatasetsDraw(chart, args, opts) {
    const { ctx, chartArea: a } = chart;
    const sets = chart.data.datasets;
    ctx.save();
    ctx.font = opts.fontSize + 'px ' + SANS;
    const textW = Math.max(...sets.map(d => ctx.measureText(d.label).width));
    const w = Math.round(opts.textInset + textW + opts.padRight);
    const h = Math.round(opts.rowHeight * sets.length + opts.padY * 2);
    const x = Math.round(a.right - opts.right - w);
    const y = Math.round(a.top + opts.top);
    ctx.fillStyle = '#fff';
    ctx.fillRect(x, y, w, h);
    ctx.strokeStyle = '#333';
    ctx.lineWidth = 1;
    ctx.strokeRect(x + 0.5, y + 0.5, w, h);
    ctx.textBaseline = 'middle';
    sets.forEach((d, i) => {
      const cy = y + opts.padY + opts.rowHeight * (i + 0.5);
      ctx.fillStyle = d.backgroundColor;
      ctx.beginPath();
      ctx.arc(x + opts.markInset, cy, 1.7, 0, Math.PI * 2);
      ctx.fill();
      ctx.fillStyle = '#111';
      ctx.fillText(d.label, x + opts.textInset, cy + 1);
    });
    ctx.restore();
  }
};

function buildScatter(canvasId, series, ccs, xTicks, yTicks, layout) {
  const datasets = series.map((flat, i) => ({
    label: seriesNames[i] + ' cc: ' + ccs[i],
    data: pairs(flat),
    backgroundColor: seriesColors[i],
    borderWidth: 0,
    pointRadius: 2.2,
    pointHoverRadius: 2.2,
    clip: false,
  }));
  const tickFont = { family: SANS, size: 11 };
  const titleFont = { family: SANS, size: 18, weight: 'bold' };
  return new Chart(document.getElementById(canvasId), {
    type: 'scatter',
    data: { datasets },
    options: {
      responsive: false,
      animation: false,
      events: [],
      layout: { padding: { top: layout.top, right: layout.right, left: 0, bottom: 0 } },
      plugins: {
        legend: { display: false },
        tooltip: { enabled: false },
        insetLegend: layout.legend,
      },
      scales: {
        x: {
          type: 'linear',
          min: xTicks[0], max: xTicks[xTicks.length - 1],
          afterBuildTicks: s => { s.ticks = xTicks.map(v => ({ value: v })); },
          afterFit: s => { s.height = layout.xAxisHeight; s.paddingLeft = 0; s.paddingRight = 0; },
          grid: { display: false, drawTicks: false },
          border: { display: false },
          ticks: { font: tickFont, color: '#222', padding: 5, maxRotation: 0, autoSkip: false, callback: v => String(v) },
          title: { display: true, text: 'lms2lms error', font: titleFont, color: '#111', padding: { top: 0, bottom: 5 } },
        },
        y: {
          type: 'linear',
          min: yTicks[0], max: yTicks[yTicks.length - 1],
          afterBuildTicks: s => { s.ticks = yTicks.map(v => ({ value: v })); },
          afterFit: s => { s.width = layout.yAxisWidth; s.paddingTop = 0; s.paddingBottom = 0; },
          grid: { display: false, drawTicks: false },
          border: { display: false },
          ticks: { font: tickFont, color: '#222', padding: 3, autoSkip: false, callback: v => String(v) },
          title: { display: true, text: 'residual', font: { family: SANS, size: 19, weight: 'bold' }, color: '#111', padding: { top: 5, bottom: 0 } },
        }
      }
    },
    plugins: [boxFrame, insetLegend]
  });
}

buildScatter('chartA', [metaEuclid, metaMahal, metaCorr], ccMeta, xTicksMeta, yTicksMeta, {
  top: 11, right: 40, yAxisWidth: 53, xAxisHeight: 49,
  legend: { fontSize: 18, rowHeight: 23.5, padY: 1.5, textInset: 24, markInset: 13, padRight: 12, right: 12, top: 10 }
});

buildScatter('chartB', [heartEuclid, heartMahal, heartCorr], ccHeart, xTicksHeart, yTicksHeart, {
  top: 17, right: 40, yAxisWidth: 51, xAxisHeight: 49,
  legend: { fontSize: 18, rowHeight: 23.5, padY: 1.5, textInset: 23, markInset: 12, padRight: 12, right: 5, top: 11 }
});
</script>
</body>
</html>
